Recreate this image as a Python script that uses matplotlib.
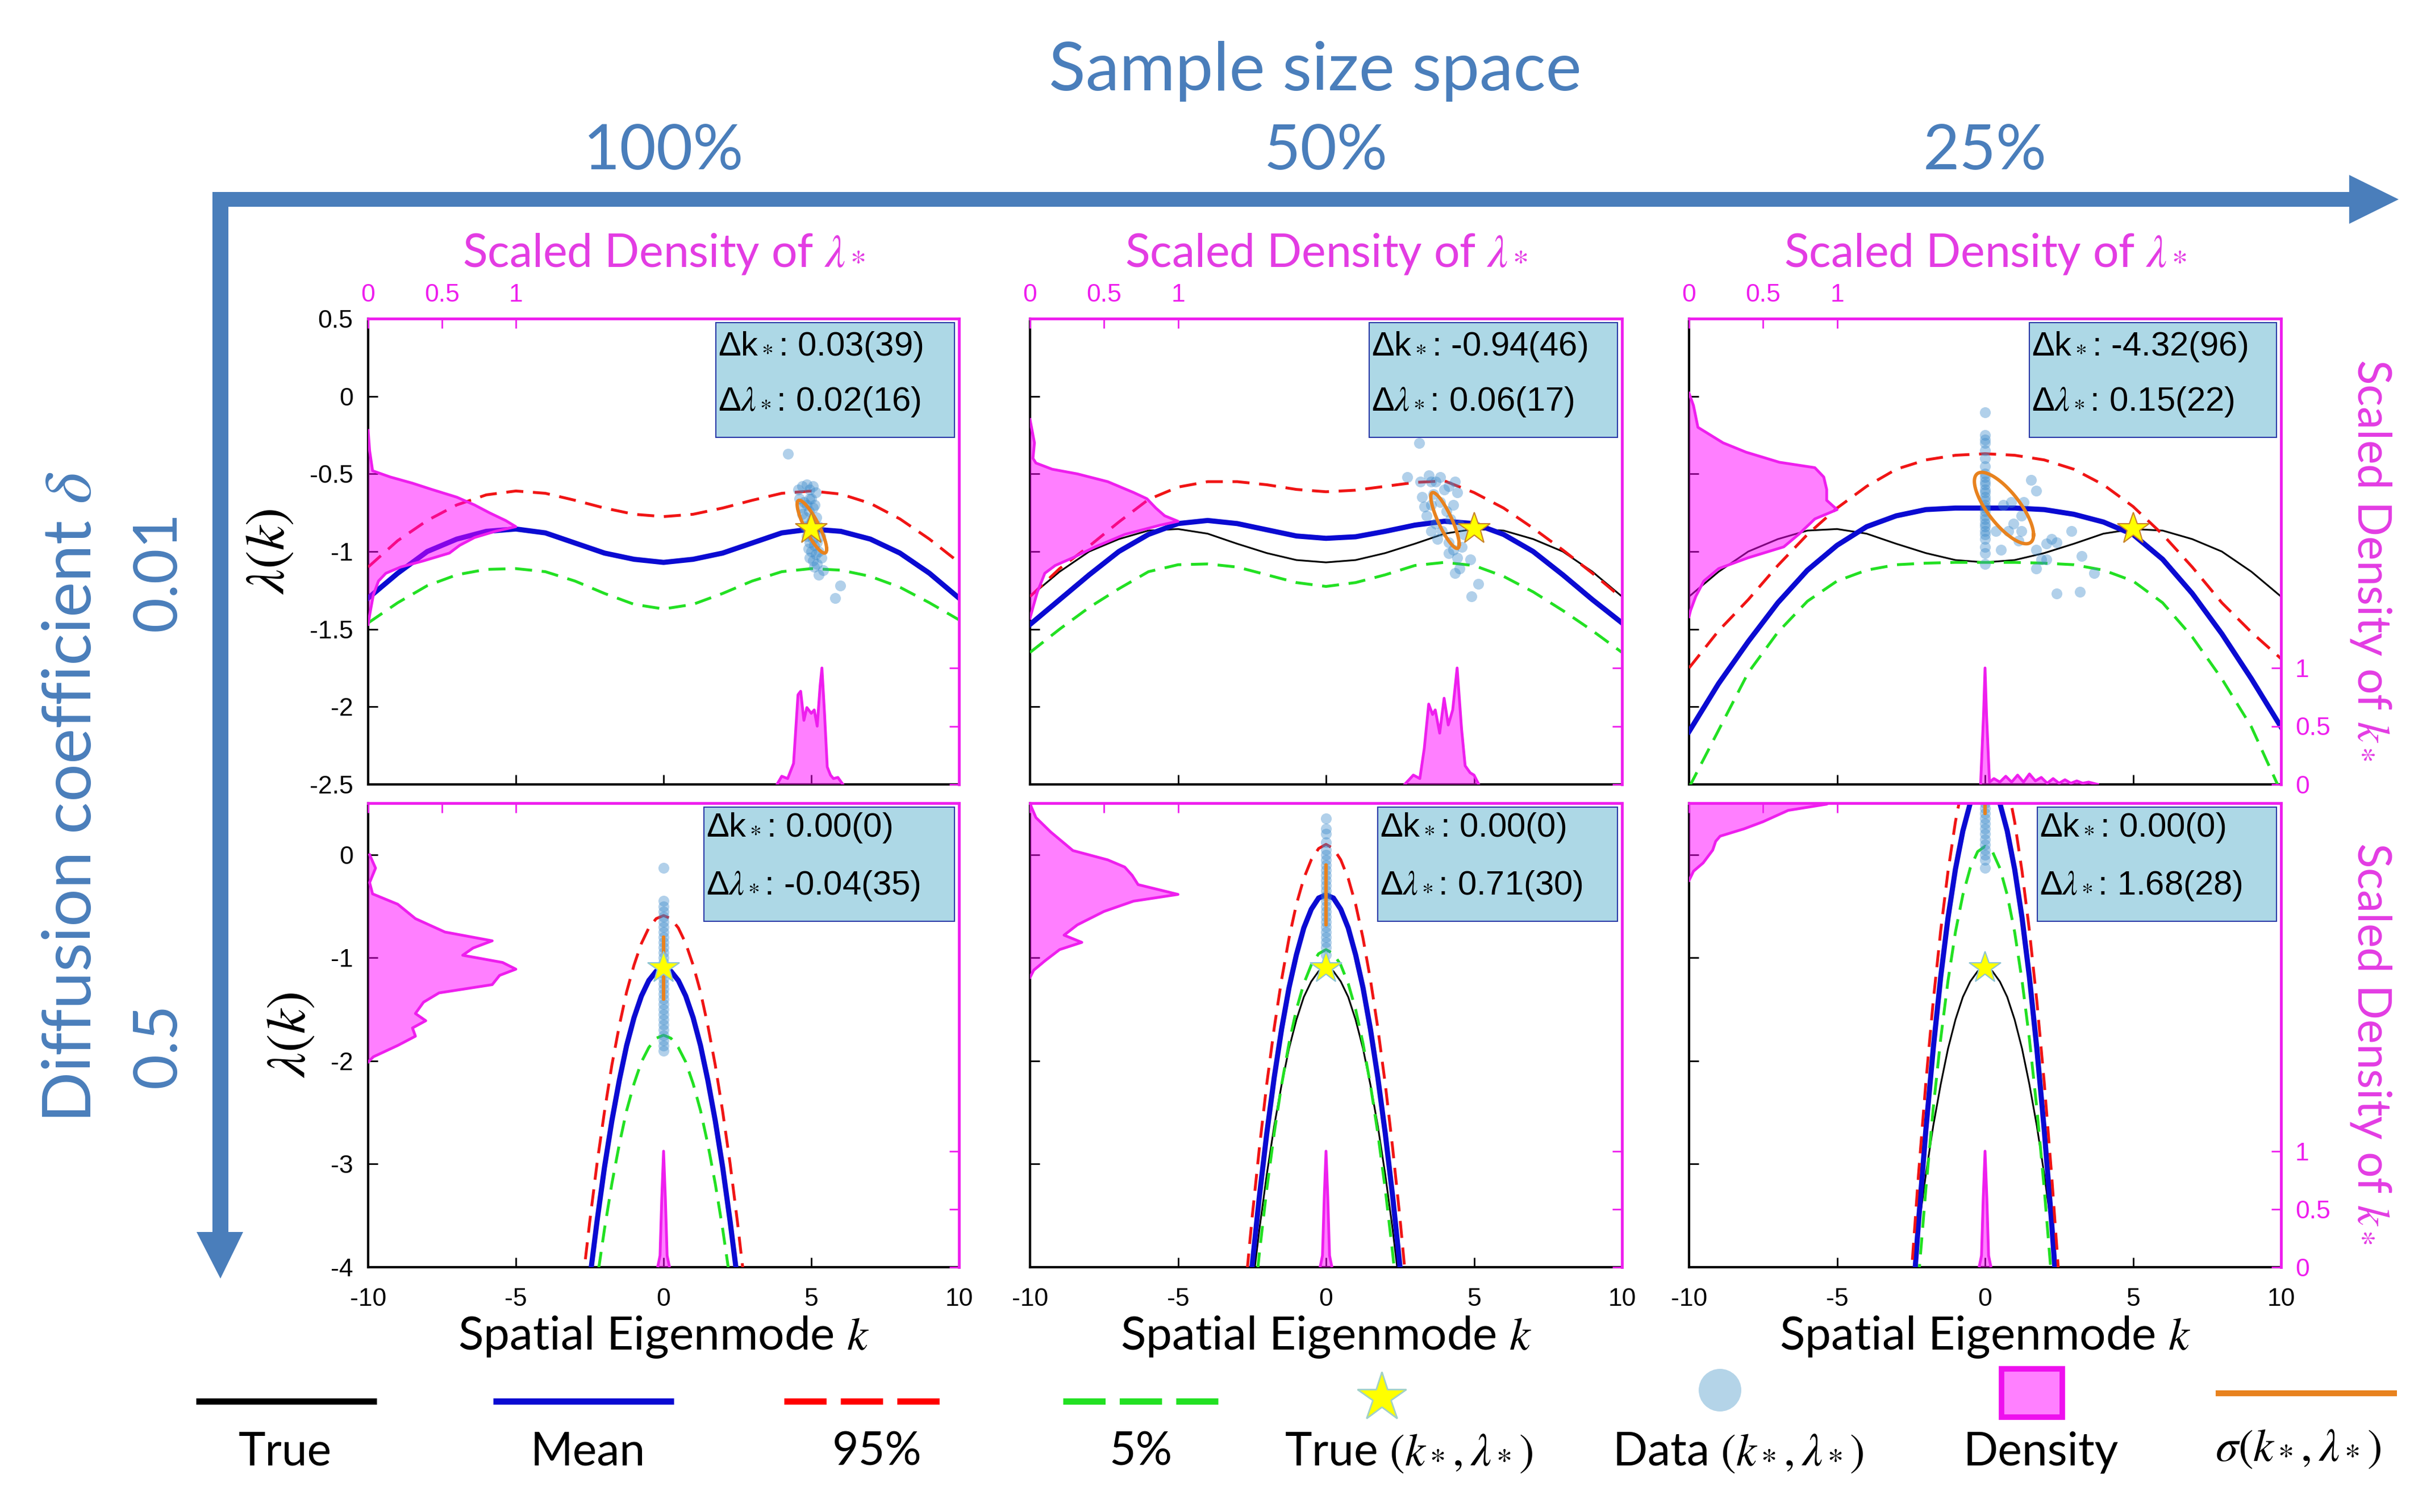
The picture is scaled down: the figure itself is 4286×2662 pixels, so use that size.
#!/usr/bin/env python3
"""
Relation de dispersion lambda(k) - grille 2 x 3
Lignes   : coefficient de diffusion delta (0.01, 0.5)
Colonnes : taille d'echantillon (100%, 50%, 25%)
Sortie   : out.png
"""

import numpy as np
import matplotlib
matplotlib.use("Agg")
import matplotlib.pyplot as plt
from matplotlib.patches import Rectangle, Polygon
from matplotlib.lines import Line2D

# ------------------------------------------------------------------ DATA
SAMPLE_SIZES = ["100%", "50%", "25%"]
DELTAS = ["0.01", "0.5"]

K_ROW1 = [-10, -9, -8, -7, -6, -5, -4, -3, -2, -1, 0, 1, 2, 3, 4, 5, 6, 7, 8, 9, 10]
K_ROW2 = [-2.75, -2.5, -2.25, -2.0, -1.75, -1.5, -1.25, -1.0, -0.75, -0.5, -0.25, 0.0,
          0.25, 0.5, 0.75, 1.0, 1.25, 1.5, 1.75, 2.0, 2.25, 2.5, 2.75]

# vraie relation (commune aux trois colonnes d'une ligne)
TRUE_ROW1 = [-1.29, -1.13, -1.00, -0.92, -0.865, -0.855, -0.885, -0.95, -1.01, -1.055, -1.07,
             -1.055, -1.01, -0.95, -0.885, -0.855, -0.865, -0.92, -1.00, -1.13, -1.29]
TRUE_ROW2 = [-4.88, -4.23, -3.63, -3.10, -2.63, -2.23, -1.88, -1.60, -1.38, -1.23, -1.13, -1.10,
             -1.13, -1.23, -1.38, -1.60, -1.88, -2.23, -2.63, -3.10, -3.63, -4.23, -4.88]

# delta = 0.01
MEAN_11 = [-1.30, -1.14, -1.00, -0.92, -0.87, -0.855, -0.88, -0.945, -1.01, -1.05, -1.07,
           -1.05, -1.01, -0.945, -0.88, -0.855, -0.87, -0.92, -1.01, -1.14, -1.30]
Q95_11 = [-1.10, -0.93, -0.80, -0.70, -0.635, -0.61, -0.625, -0.67, -0.72, -0.76, -0.775,
          -0.76, -0.72, -0.67, -0.625, -0.61, -0.63, -0.69, -0.79, -0.92, -1.07]
Q05_11 = [-1.46, -1.33, -1.22, -1.15, -1.115, -1.11, -1.13, -1.19, -1.27, -1.34, -1.37,
          -1.34, -1.27, -1.19, -1.13, -1.11, -1.12, -1.16, -1.23, -1.33, -1.44]

MEAN_12 = [-1.47, -1.31, -1.15, -1.00, -0.89, -0.82, -0.80, -0.82, -0.86, -0.90, -0.915,
           -0.905, -0.87, -0.83, -0.805, -0.82, -0.89, -1.00, -1.15, -1.31, -1.46]
Q95_12 = [-1.29, -1.11, -0.965, -0.81, -0.665, -0.585, -0.55, -0.55, -0.57, -0.60, -0.615,
          -0.605, -0.58, -0.555, -0.545, -0.62, -0.72, -0.85, -0.99, -1.14, -1.30]
Q05_12 = [-1.65, -1.50, -1.36, -1.24, -1.13, -1.085, -1.08, -1.10, -1.15, -1.20, -1.225,
          -1.20, -1.15, -1.09, -1.07, -1.09, -1.16, -1.26, -1.38, -1.51, -1.65]

MEAN_13 = [-2.16, -1.85, -1.58, -1.33, -1.12, -0.96, -0.84, -0.77, -0.73, -0.72, -0.72,
           -0.72, -0.73, -0.76, -0.81, -0.89, -1.05, -1.27, -1.53, -1.82, -2.13]
Q95_13 = [-1.75, -1.51, -1.31, -1.09, -0.89, -0.72, -0.58, -0.47, -0.41, -0.38, -0.37,
          -0.38, -0.41, -0.47, -0.57, -0.71, -0.89, -1.10, -1.33, -1.52, -1.69]
Q05_13 = [-2.52, -2.15, -1.78, -1.52, -1.32, -1.19, -1.12, -1.085, -1.075, -1.07, -1.07,
          -1.07, -1.075, -1.085, -1.12, -1.19, -1.33, -1.55, -1.82, -2.13, -2.55]

# delta = 0.5
MEAN_21 = [-4.75, -4.12, -3.55, -3.03, -2.58, -2.19, -1.85, -1.58, -1.37, -1.22, -1.13, -1.10,
           -1.13, -1.22, -1.37, -1.58, -1.85, -2.19, -2.58, -3.03, -3.55, -4.12, -4.75]
Q95_21 = [-4.18, -3.56, -2.99, -2.49, -2.04, -1.66, -1.33, -1.07, -0.86, -0.71, -0.62, -0.59,
          -0.62, -0.71, -0.86, -1.07, -1.33, -1.66, -2.04, -2.49, -2.99, -3.56, -4.18]
Q05_21 = [-5.30, -4.68, -4.12, -3.63, -3.19, -2.81, -2.48, -2.22, -2.01, -1.87, -1.78, -1.75,
          -1.78, -1.87, -2.01, -2.22, -2.48, -2.81, -3.19, -3.63, -4.12, -4.68, -5.30]

MEAN_22 = [-4.76, -4.00, -3.31, -2.70, -2.16, -1.69, -1.29, -0.97, -0.71, -0.53, -0.42, -0.39,
           -0.42, -0.53, -0.71, -0.97, -1.29, -1.69, -2.16, -2.70, -3.31, -4.00, -4.76]
Q95_22 = [-4.29, -3.53, -2.84, -2.22, -1.68, -1.21, -0.81, -0.48, -0.23, -0.05, 0.06, 0.10,
          0.06, -0.05, -0.23, -0.48, -0.81, -1.21, -1.68, -2.22, -2.84, -3.53, -4.29]
Q05_22 = [-5.31, -4.55, -3.86, -3.24, -2.70, -2.23, -1.83, -1.50, -1.25, -1.07, -0.96, -0.92,
          -0.96, -1.07, -1.25, -1.50, -1.83, -2.23, -2.70, -3.24, -3.86, -4.55, -5.31]

MEAN_23 = [-5.68, -4.57, -3.57, -2.67, -1.88, -1.19, -0.61, -0.14, 0.23, 0.50, 0.66, 0.71,
           0.66, 0.50, 0.23, -0.14, -0.61, -1.19, -1.88, -2.67, -3.57, -4.57, -5.68]
Q95_23 = [-5.22, -4.11, -3.11, -2.21, -1.42, -0.74, -0.16, 0.32, 0.69, 0.95, 1.11, 1.16,
          1.11, 0.95, 0.69, 0.32, -0.16, -0.74, -1.42, -2.21, -3.11, -4.11, -5.22]
Q05_23 = [-6.20, -5.11, -4.12, -3.24, -2.46, -1.79, -1.22, -0.75, -0.39, -0.13, 0.03, 0.08,
          0.03, -0.13, -0.39, -0.75, -1.22, -1.79, -2.46, -3.24, -4.12, -5.11, -6.20]

# donnees (k*, lambda*)
PK_11 = [4.21, 4.55, 4.70, 4.85, 4.95, 5.05, 5.15, 4.60, 4.75, 4.85, 4.95, 5.05, 4.70, 4.80,
         4.92, 5.02, 5.12, 4.78, 4.88, 4.98, 5.08, 5.18, 4.85, 4.95, 5.05, 5.15, 5.25, 4.90,
         5.00, 5.10, 5.20, 5.30, 4.95, 5.05, 5.15, 5.25, 5.10, 5.20, 5.35, 5.25, 5.40, 5.98,
         5.80, 4.65, 5.00]
PL_11 = [-0.37, -0.60, -0.58, -0.57, -0.60, -0.58, -0.62, -0.66, -0.68, -0.70, -0.66, -0.72,
         -0.76, -0.78, -0.74, -0.80, -0.70, -0.84, -0.86, -0.82, -0.88, -0.78, -0.90, -0.94,
         -0.92, -0.86, -0.84, -0.98, -1.00, -0.96, -0.94, -0.90, -1.04, -1.06, -1.02, -1.00,
         -1.10, -1.08, -1.04, -1.15, -1.12, -1.22, -1.30, -0.72, -0.66]
PK_12 = [3.14, 2.74, 3.18, 3.48, 3.70, 4.14, 4.36, 4.43, 3.25, 3.55, 3.85, 4.07, 3.40, 3.70,
         3.92, 4.21, 3.55, 3.77, 4.14, 4.29, 4.43, 4.51, 4.36, 4.88, 5.14, 4.92, 3.99, 3.62,
         4.29, 4.51, 4.66, 4.58, 3.33, 4.14, 3.55, 3.85]
PL_12 = [-0.30, -0.52, -0.55, -0.51, -0.55, -0.58, -0.55, -0.62, -0.65, -0.70, -0.68, -0.74,
         -0.77, -0.82, -0.87, -0.79, -0.87, -0.92, -0.94, -0.99, -1.04, -1.11, -1.14, -1.05,
         -1.21, -1.29, -0.60, -0.63, -0.70, -0.83, -0.89, -0.97, -0.71, -1.01, -0.55, -0.52]
PK_13 = [0.0] * 28 + [0.37, 0.62, 0.79, 0.88, 0.96, 1.22, 1.22, 1.56, 1.73, 1.73, 1.90, 2.07,
                      2.24, 2.41, 2.92, 3.27, 3.69, 1.73, 2.41, 3.21, 0.54, 1.30, 1.13, 2.07]
PL_13 = [-0.105, -0.25, -0.28, -0.30, -0.35, -0.40, -0.45, -0.50, -0.52, -0.55, -0.57, -0.60,
         -0.62, -0.65, -0.67, -0.70, -0.72, -0.74, -0.77, -0.79, -0.82, -0.84, -0.87, -0.89,
         -0.92, -0.97, -1.01, -1.08,
         -0.87, -0.70, -0.87, -0.68, -0.82, -0.77, -0.87, -0.54, -0.61, -0.99, -1.05, -0.95,
         -0.92, -0.94, -0.87, -1.03, -1.14, -1.11, -1.27, -1.26, -0.99, -0.68, -0.93, -1.05]
PL_21 = [-0.13, -0.45, -0.50, -0.55, -0.60, -0.65, -0.70, -0.75, -0.80, -0.85, -0.90, -0.95,
         -1.00, -1.05, -1.10, -1.15, -1.20, -1.25, -1.30, -1.35, -1.40, -1.45, -1.50, -1.55,
         -1.60, -1.65, -1.70, -1.75, -1.80, -1.85, -1.90]
PL_22 = [0.35, 0.25, 0.20, 0.12, 0.05, 0.00, -0.05, -0.10, -0.15, -0.20, -0.25, -0.30, -0.35,
         -0.40, -0.45, -0.50, -0.55, -0.60, -0.65, -0.70, -0.75, -0.80, -0.85, -0.90, -0.97]
PL_23 = [0.90, 0.80, 0.70, 0.60, 0.50, 0.45, 0.40, 0.35, 0.30, 0.25, 0.20, 0.15, 0.10, 0.05,
         0.00, -0.05, -0.13]
PK_21 = [0.0] * len(PL_21)
PK_22 = [0.0] * len(PL_22)
PK_23 = [0.0] * len(PL_23)

# ellipses sigma(k*, lambda*) : centre k, centre lambda, sigma k, sigma lambda, correlation
ELL_MK = [[5.02, 4.02, 0.64], [0.0, 0.0, 0.0]]
ELL_ML = [[-0.84, -0.80, -0.72], [-1.10, -0.39, 0.66]]
ELL_SK = [[0.50, 0.48, 1.00], [0.0, 0.0, 0.0]]
ELL_SL = [[0.17, 0.18, 0.23], [0.30, 0.29, 0.26]]
ELL_RHO = [[-0.85, -0.85, -0.75], [0.0, 0.0, 0.0]]

# vrai (k*, lambda*)
STAR_K = [5.0, 0.0]
STAR_L = [-0.855, -1.10]

# densite reduite de lambda* (axe du haut, 0..4)
DL_LAM_11 = [-0.22, -0.35, -0.48, -0.52, -0.56, -0.60, -0.65, -0.70, -0.75, -0.80, -0.84,
             -0.87, -0.91, -0.96, -1.01, -1.06, -1.10, -1.14, -1.19, -1.28, -1.40, -1.47]
DL_DEN_11 = [0.0, 0.01, 0.03, 0.15, 0.30, 0.43, 0.60, 0.72, 0.82, 0.93, 1.0,
             0.86, 0.72, 0.62, 0.55, 0.375, 0.22, 0.12, 0.07, 0.035, 0.012, 0.0]
DL_LAM_12 = [-0.15, -0.30, -0.40, -0.43, -0.47, -0.50, -0.55, -0.62, -0.66, -0.72, -0.77,
             -0.805, -0.83, -0.89, -0.97, -1.04, -1.09, -1.14, -1.26, -1.36, -1.43]
DL_DEN_12 = [0.0, 0.03, 0.02, 0.04, 0.15, 0.32, 0.525, 0.70, 0.79, 0.85, 0.91,
             1.0, 0.88, 0.64, 0.44, 0.29, 0.17, 0.10, 0.05, 0.02, 0.0]
DL_LAM_13 = [0.02, -0.06, -0.20, -0.30, -0.36, -0.425, -0.46, -0.52, -0.60, -0.67, -0.73,
             -0.79, -0.89, -0.97, -1.04, -1.11, -1.19, -1.29, -1.38, -1.42]
DL_DEN_13 = [0.0, 0.03, 0.06, 0.23, 0.385, 0.61, 0.85, 0.91, 0.93, 0.93, 1.0,
             0.85, 0.74, 0.64, 0.40, 0.20, 0.10, 0.045, 0.01, 0.0]
DL_LAM_21 = [0.0, -0.13, -0.27, -0.38, -0.48, -0.62, -0.75, -0.835, -0.905, -0.975, -1.045,
             -1.11, -1.17, -1.26, -1.34, -1.43, -1.54, -1.61, -1.68, -1.76, -1.85, -1.96, -2.01]
DL_DEN_21 = [0.01, 0.05, 0.01, 0.03, 0.20, 0.32, 0.52, 0.84, 0.71, 0.64, 0.91,
             1.0, 0.89, 0.84, 0.48, 0.375, 0.32, 0.39, 0.30, 0.32, 0.20, 0.035, 0.0]
DL_LAM_22 = [0.50, 0.46, 0.36, 0.22, 0.04, -0.05, -0.12, -0.20, -0.29, -0.385, -0.45,
             -0.55, -0.68, -0.78, -0.85, -0.92, -1.03, -1.12, -1.19]
DL_DEN_22 = [0.0, 0.01, 0.04, 0.14, 0.29, 0.525, 0.64, 0.69, 0.73, 1.0, 0.70,
             0.50, 0.32, 0.23, 0.35, 0.20, 0.10, 0.025, 0.0]
DL_LAM_23 = [1.10, 0.90, 0.75, 0.62, 0.55, 0.49, 0.43, 0.32, 0.25, 0.18, 0.13, 0.045,
             -0.08, -0.16, -0.25]
DL_DEN_23 = [0.0, 0.15, 0.50, 0.90, 1.0, 0.93, 0.67, 0.50, 0.37, 0.21, 0.18, 0.16,
             0.095, 0.03, 0.0]

# densite reduite de k* (axe de droite, 0..4)
DK_K_11 = [3.84, 4.0, 4.2, 4.4, 4.55, 4.64, 4.75, 4.85, 5.0, 5.1, 5.2, 5.3, 5.36, 5.45,
           5.54, 5.65, 5.75, 5.9, 6.07]
DK_DEN_11 = [0.0, 0.07, 0.05, 0.18, 0.77, 0.80, 0.55, 0.66, 0.61, 0.64, 0.50, 0.85, 1.0, 0.60,
             0.15, 0.08, 0.05, 0.06, 0.0]
DK_K_12 = [2.66, 2.95, 3.17, 3.32, 3.47, 3.6, 3.69, 3.84, 3.99, 4.13, 4.28, 4.43, 4.58, 4.7,
           4.87, 5.0, 5.16]
DK_DEN_12 = [0.0, 0.08, 0.05, 0.31, 0.69, 0.60, 0.64, 0.44, 0.74, 0.51, 0.64, 1.0, 0.475, 0.16,
             0.10, 0.08, 0.0]
DK_K_13 = [-0.15, -0.05, 0.0, 0.05, 0.15, 0.3, 0.5, 0.7, 0.9, 1.1, 1.3, 1.5, 1.7, 1.9, 2.1,
           2.3, 2.5, 2.7, 2.9, 3.1, 3.3, 3.5, 3.8]
DK_DEN_13 = [0.0, 0.6, 1.0, 0.6, 0.02, 0.05, 0.02, 0.07, 0.02, 0.08, 0.02, 0.09, 0.03, 0.06,
             0.01, 0.05, 0.01, 0.04, 0.01, 0.03, 0.01, 0.02, 0.0]
DK_K_ROW2 = [-0.2, -0.12, -0.06, 0.0, 0.06, 0.12, 0.2]
DK_DEN_ROW2 = [0.0, 0.1, 0.6, 1.0, 0.6, 0.1, 0.0]

# textes des encadres
DK_TXT = [["0.03(39)", "-0.94(46)", "-4.32(96)"], ["0.00(0)", "0.00(0)", "0.00(0)"]]
DL_TXT = [["0.02(16)", "0.06(17)", "0.15(22)"], ["-0.04(35)", "0.71(30)", "1.68(28)"]]

LEGEND_LABELS = ["True", "Mean", "95%", "5%", r"True $(k_*, \lambda_*)$",
                 r"Data $(k_*, \lambda_*)$", "Density", r"$\sigma(k_*, \lambda_*)$"]

# regroupement par panneau
K_ROWS = [K_ROW1, K_ROW2]
TRUE_ROWS = [TRUE_ROW1, TRUE_ROW2]
MEAN = [[MEAN_11, MEAN_12, MEAN_13], [MEAN_21, MEAN_22, MEAN_23]]
Q95 = [[Q95_11, Q95_12, Q95_13], [Q95_21, Q95_22, Q95_23]]
Q05 = [[Q05_11, Q05_12, Q05_13], [Q05_21, Q05_22, Q05_23]]
PK = [[PK_11, PK_12, PK_13], [PK_21, PK_22, PK_23]]
PL = [[PL_11, PL_12, PL_13], [PL_21, PL_22, PL_23]]
DL = [[(DL_LAM_11, DL_DEN_11), (DL_LAM_12, DL_DEN_12), (DL_LAM_13, DL_DEN_13)],
      [(DL_LAM_21, DL_DEN_21), (DL_LAM_22, DL_DEN_22), (DL_LAM_23, DL_DEN_23)]]
DK = [[(DK_K_11, DK_DEN_11), (DK_K_12, DK_DEN_12), (DK_K_13, DK_DEN_13)],
      [(DK_K_ROW2, DK_DEN_ROW2)] * 3]

# ------------------------------------------------------------------ STYLE
W, H, DPI = 4286, 2662, 100
plt.rcParams['mathtext.fontset'] = 'stix'
plt.rcParams['axes.unicode_minus'] = False
plt.rcParams['font.family'] = ['Liberation Sans', 'DejaVu Sans']

SANS = ['Lato', 'DejaVu Sans']
C_BLUE = '#4a7ebb'
C_MEAN = '#0a0ad2'
C_95 = '#f01414'
C_05 = '#22e022'
C_DATA = '#3d8bcb'
C_SIG = '#e8821e'
C_STAR = '#ffff00'
C_MAG = '#ee1eee'
C_MAG_TXT = '#e33ce3'
C_BOX = '#add8e6'
C_BOXEDGE = '#2a3aa8'

COL_PX = [(648, 1688), (1813, 2855), (2973, 4015)]
ROW_PX = [(561, 1381), (1414, 2231)]
YLIMS = [(-2.5, 0.5), (-4, 0.5)]
YTICKS = [[0.5, 0, -0.5, -1, -1.5, -2, -2.5], [0, -1, -2, -3, -4]]
YTL = [['0.5', '0', '-0.5', '-1', '-1.5', '-2', '-2.5'], ['0', '-1', '-2', '-3', '-4']]
BOX_X0 = [[0.588, 0.573, 0.575], [0.568, 0.587, 0.588]]
BOX_LINES = [(0.940, 0.821), (0.947, 0.822)]
STAR_EDGE = ['#c8822a', '#8cc4d4']

fig = plt.figure(figsize=(W / DPI, H / DPI), dpi=DPI, facecolor='white')
t = np.linspace(0, 2 * np.pi, 300)

for r in range(2):
    for c in range(3):
        x0, x1 = COL_PX[c]
        y0, y1 = ROW_PX[r]
        ax = fig.add_axes([x0 / W, 1 - y1 / H, (x1 - x0) / W, (y1 - y0) / H])
        kk = K_ROWS[r]

        ax.plot(kk, TRUE_ROWS[r], color='black', lw=2.2, zorder=2)
        ax.plot(kk, MEAN[r][c], color=C_MEAN, lw=6.5, zorder=3)
        ax.plot(kk, Q95[r][c], color=C_95, lw=3.6, dashes=(6, 3.4), zorder=3)
        ax.plot(kk, Q05[r][c], color=C_05, lw=3.6, dashes=(6, 3.4), zorder=3)
        ax.scatter(PK[r][c], PL[r][c], s=190, color=C_DATA, alpha=0.4, lw=0, zorder=4)

        mk, ml = ELL_MK[r][c], ELL_ML[r][c]
        sk, sl, rho = ELL_SK[r][c], ELL_SL[r][c], ELL_RHO[r][c]
        ax.plot(mk + sk * np.cos(t),
                ml + sl * (rho * np.cos(t) + np.sqrt(1 - rho ** 2) * np.sin(t)),
                color=C_SIG, lw=4.3, zorder=5)
        ax.plot([STAR_K[r]], [STAR_L[r]], marker='*', ms=42, mfc=C_STAR,
                mec=STAR_EDGE[r], mew=1.5, ls='none', zorder=6)

        ax.set_xticks([-10, -5, 0, 5, 10])
        ax.set_xticklabels(['-10', '-5', '0', '5', '10'])
        ax.set_yticks(YTICKS[r])
        ax.set_yticklabels(YTL[r])
        ax.tick_params(axis='both', direction='in', length=12, width=2, labelsize=32,
                       colors='black')
        ax.tick_params(axis='x', pad=26, labelbottom=(r == 1))
        ax.tick_params(axis='y', pad=19, labelleft=(c == 0))
        for s in ['top', 'right']:
            ax.spines[s].set_visible(False)
        for s in ['left', 'bottom']:
            ax.spines[s].set_linewidth(3)
            ax.spines[s].set_color('black')
        if r == 1:
            ax.set_xlabel('Spatial Eigenmode $k$', fontsize=59, family=SANS, labelpad=4)
        if c == 0:
            ax.set_ylabel(r'$\lambda(k)$', fontsize=70, labelpad=18)

        # densite de lambda* (axe du haut)
        axl = ax.twiny()
        lam, den = DL[r][c]
        axl.fill_betweenx(lam, 0, den, color='#ff00ff', alpha=0.5, lw=0)
        axl.plot(den, lam, color=C_MAG, lw=3.5)
        axl.set_xlim(0, 4)
        axl.set_xticks([0, 0.5, 1])
        axl.set_xticklabels(['0', '0.5', '1'])
        axl.tick_params(axis='x', direction='in', length=12, width=2, colors=C_MAG,
                        labelsize=32, pad=15, labeltop=(r == 0))
        for s in ['left', 'right', 'bottom']:
            axl.spines[s].set_visible(False)
        axl.spines['top'].set_color(C_MAG)
        axl.spines['top'].set_linewidth(3.5)

        # densite de k* (axe de droite)
        axk = ax.twinx()
        kd, dd = DK[r][c]
        axk.fill_between(kd, 0, dd, color='#ff00ff', alpha=0.5, lw=0)
        axk.plot(kd, dd, color=C_MAG, lw=3.5)
        axk.set_ylim(0, 4)
        axk.set_yticks([0, 0.5, 1])
        axk.set_yticklabels(['0', '0.5', '1'])
        axk.tick_params(axis='y', direction='in', length=12, width=2, colors=C_MAG,
                        labelsize=32, pad=18, labelright=(c == 2))
        for s in ['left', 'top', 'bottom']:
            axk.spines[s].set_visible(False)
        axk.spines['right'].set_color(C_MAG)
        axk.spines['right'].set_linewidth(3.5)

        ax.set_xlim(-10, 10)
        ax.set_ylim(*YLIMS[r])

        # encadre
        bx0 = BOX_X0[r][c]
        axk.add_patch(Rectangle((bx0, 0.745), 0.992 - bx0, 0.247, transform=axk.transAxes,
                                fc=C_BOX, ec=C_BOXEDGE, lw=1.5, zorder=10, clip_on=False))
        ly1, ly2 = BOX_LINES[r]
        axk.text(bx0 + 0.004, ly1, 'Δk' + r'$_*$' + ': ' + DK_TXT[r][c],
                 transform=axk.transAxes, fontsize=43, ha='left', va='center', zorder=11)
        axk.text(bx0 + 0.004, ly2, 'Δ' + r'$\lambda_*$' + ': ' + DL_TXT[r][c],
                 transform=axk.transAxes, fontsize=43, ha='left', va='center', zorder=11)

# ------------------------------------------------------------------ DECOR
ov = fig.add_axes([0, 0, 1, 1])
ov.set_zorder(20)
ov.set_xlim(0, W)
ov.set_ylim(H, 0)
ov.axis('off')
ov.patch.set_alpha(0)

ov.add_patch(Polygon([(374, 338), (4135, 338), (4135, 308), (4222, 351), (4135, 394),
                      (4135, 364), (374, 364)], closed=True, fc=C_BLUE, ec='none'))
ov.add_patch(Polygon([(374, 338), (402, 338), (402, 2169), (428, 2169), (388, 2251),
                      (346, 2169), (374, 2169)], closed=True, fc=C_BLUE, ec='none'))

ov.text(2315, 159, 'Sample size space', fontsize=86, family=SANS, color=C_BLUE,
        ha='center', va='baseline')
for c, lab in enumerate(SAMPLE_SIZES):
    xc = sum(COL_PX[c]) / 2
    ov.text(xc, 298, lab, fontsize=80, family=SANS, color=C_BLUE, ha='center', va='baseline')
    ov.text(xc, 470, r'Scaled Density of $\lambda_*$', fontsize=58, family=SANS,
            color=C_MAG_TXT, ha='center', va='baseline')

ov.text(160, 1403, r'Diffusion coefficient $\delta$', fontsize=85, family=SANS, color=C_BLUE,
        rotation=90, rotation_mode='anchor', ha='center', va='baseline')
for yc, lab in zip([1005, 1840], DELTAS):
    ov.text(309, yc, lab, fontsize=77, family=SANS, color=C_BLUE,
            rotation=90, rotation_mode='anchor', ha='center', va='baseline')
for yc in [986, 1837]:
    ov.text(4150, yc, r'Scaled Density of $k_*$', fontsize=58, family=SANS, color=C_MAG_TXT,
            rotation=270, rotation_mode='anchor', ha='center', va='baseline')

# legende
LY = 2467
ov.add_line(Line2D([345, 663], [LY, LY], color='black', lw=8, solid_capstyle='butt'))
ov.add_line(Line2D([868, 1186], [LY, LY], color=C_MEAN, lw=8, solid_capstyle='butt'))
ov.add_line(Line2D([1380, 1655], [LY, LY], color='#ff0000', lw=8, dashes=(6.7, 2.25),
                   dash_capstyle='butt'))
ov.add_line(Line2D([1871, 2144], [LY, LY], color=C_05, lw=8, dashes=(6.7, 2.25),
                   dash_capstyle='butt'))
ov.plot([2432], [2460], marker='*', ms=65, mfc=C_STAR, mec='#a0d0c8', mew=2, ls='none')
ov.plot([3027], [2447], marker='o', ms=54, mfc='#b4d4e8', mec='none', ls='none')
ov.add_patch(Rectangle((3523, 2410), 107, 85, fc='#ff80ff', ec='#ee10ee', lw=7))
ov.add_line(Line2D([3900, 4219], [2453, 2453], color=C_SIG, lw=7.5, solid_capstyle='butt'))

LEG_X = [502, 1035, 1544, 2008, 2479, 3059, 3592, 4045]
LEG_Y = [2580, 2580, 2580, 2580, 2580, 2580, 2580, 2572]
for x, y, lab in zip(LEG_X, LEG_Y, LEGEND_LABELS):
    ov.text(x, y, lab, fontsize=58, family=SANS, color='black', ha='center', va='baseline')

fig.savefig('out.png', dpi=DPI, facecolor='white')
plt.close(fig)
